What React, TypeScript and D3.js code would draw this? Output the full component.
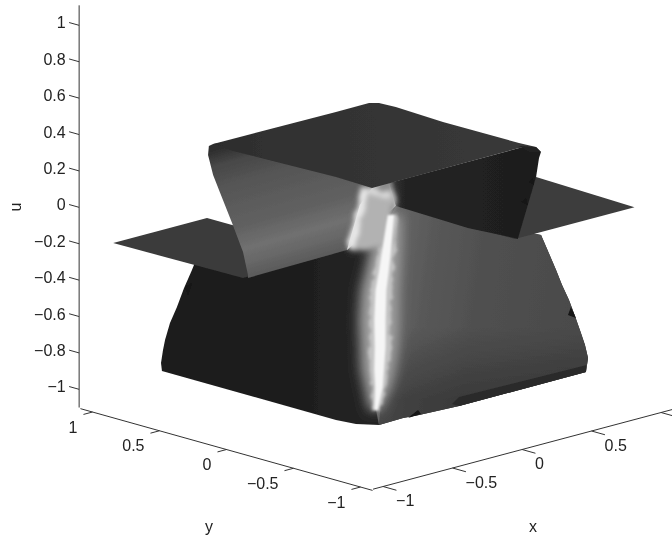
import React from "react";
import * as d3 from "d3";

type P3 = [number, number, number];

// tick values
const xTicks = [-1, -0.5, 0, 0.5, 1];
const xLabels = [-1, -0.5, 0, 0.5];
const yTicks = [-1, -0.5, 0, 0.5, 1];
const uTicks = [-1, -0.8, -0.6, -0.4, -0.2, 0, 0.2, 0.4, 0.6, 0.8, 1];

// sheets of the surface, [x, y, u]
const topPlate: P3[] = [
  [-0.231, 0.991, 0.2], [0.643, 0.981, 0.2], [0.884, 0.984, 0.2], [0.921, 0.948, 0.2],
  [0.93, 0.832, 0.2], [0.907, 0.456, 0.2], [0.91, -0.108, 0.2], [0.92, -0.225, 0.2],
  [0.844, -0.177, 0.2], [-0.201, -0.164, 0.19], [-0.213, 0.093, 0.2], [-0.25, 0.823, 0.2],
];
const plateCorner: P3[] = [[0.87, -0.149, 0.2], [0.92, -0.225, 0.2], [0.945, -0.236, 0.17], [0.831, -0.271, 0.2]];
const leftFlap: P3[] = [[-0.97, 0.97, -0.19], [-0.293, 0.972, -0.19], [-0.293, 0.021, -0.19], [-0.951, 0.021, -0.19]];
const rightFlap: P3[] = [[0.92, -0.96, 0.02], [0.957, -0.187, 0.02], [0.06, -0.19, 0.02], [0.062, -0.957, 0.02]];
const grayWall: P3[] = [
  [-0.273, 0.979, 0.2], [-0.275, 0.983, 0.15], [-0.256, 0.965, 0.04], [-0.287, 0.883, -0.03],
  [-0.483, 0.588, -0.1], [-0.705, 0.276, -0.15], [-0.893, 0.044, -0.19], [-0.932, 0.003, -0.19],
  [-0.198, 0.026, -0.19], [-0.049, 0.085, 0.015], [-0.201, -0.164, 0.19],
  [0.1, -0.1, 0.2], [0.1, 0.9, 0.2], [-0.231, 0.991, 0.2],
];
const darkWall: P3[] = [
  [-0.096, -0.182, 0.2], [0.844, -0.177, 0.2], [0.92, -0.225, 0.2], [0.945, -0.236, 0.17],
  [0.93, -0.237, 0.14], [0.957, -0.187, 0.02], [0.073, -0.968, 0.02], [0.071, -0.941, 0.02],
  [0.034, -0.636, 0.02], [0.058, -0.073, 0.02],
];
const ridgeBase: P3[] = [[-0.201, -0.164, 0.19], [0, -0.1, 0.2], [0.058, -0.073, 0.02], [0.022, -0.074, -0.022], [-0.198, 0.026, -0.19]];
const ridgeCrest: P3[] = [
  [-0.875, -0.893, -0.743], [-0.765, -0.801, -0.658], [-0.691, -0.725, -0.595], [-0.588, -0.626, -0.51],
  [-0.472, -0.504, -0.41], [-0.339, -0.374, -0.299], [-0.241, -0.295, -0.225], [-0.131, -0.203, -0.14],
  [0.022, -0.074, -0.022],
];
const ridgeWidth = [0.006, 0.014, 0.018, 0.02, 0.021, 0.02, 0.018, 0.016, 0.012];
const leftEdge: P3[] = [
  [-0.198, 0.026, -0.19], [-1, 0.291, -0.081], [-1, 0.351, -0.204], [-1, 0.41, -0.315], [-1, 0.463, -0.431],
  [-1, 0.515, -0.529], [-1, 0.552, -0.63], [-1, 0.567, -0.688], [-1, 0.582, -0.763], [-1, 0.575, -0.805],
  [-1, -0.724, -0.807], [-1, -0.873, -0.798], [-0.957, -1, -0.786],
];
const rightEdge: P3[] = [
  [-0.957, -1, -0.786], [-0.784, -1, -0.783], [-0.669, -1, -0.79], [-0.381, -1, -0.799], [0.532, -1, -0.798],
  [0.547, -1, -0.724], [0.525, -1, -0.648], [0.496, -1, -0.576], [0.453, -1, -0.474], [0.41, -1, -0.377],
  [0.36, -1, -0.285], [0.317, -1, -0.193], [0.209, -1, 0.021], [0.058, -0.073, 0.02],
];
const bottomBand: P3[] = [[-0.432, -1, -0.777], [-0.381, -1, -0.749], [0.532, -1, -0.76], [0.532, -1, -0.798], [-0.381, -1, -0.799]];
const notches: P3[][] = [
  [[-0.748, -1, -0.79], [-0.676, -1, -0.761], [-0.655, -1, -0.787]],
  [[0.403, -1, -0.458], [0.424, -1, -0.419], [0.46, -1, -0.486]],
  [[-1, 0.403, -0.308], [-1, 0.351, -0.276], [-1, 0.381, -0.348]],
  [[0.669, -0.426, 0.1], [0.74, -0.389, 0.1], [0.651, -0.489, 0.1]],
  [[0.379, -0.673, 0.1], [0.451, -0.636, 0.1], [0.366, -0.74, 0.1]],
];
const blob: P3[] = [
  [0.04, 0.154, 0.081], [0.073, 0.076, 0.063], [0.134, 0.034, 0.071], [0.088, -0.036, 0.022], [0.048, -0.04, 0.003],
  [-0.104, -0.212, -0.133], [-0.134, -0.192, -0.137], [-0.243, -0.118, -0.151], [-0.279, -0.065, -0.144],
  [-0.187, -0.015, -0.085], [-0.128, 0.032, -0.04], [-0.049, 0.085, 0.015],
];
const streak: P3[] = [[0.031, 0.136, 0.071], [-0.07, 0.062, -0.003], [-0.2, -0.029, -0.096], [-0.267, -0.068, -0.14]];
const blobTop: P3[] = [[0.04, 0.12, 0.07], [0.09, 0.05, 0.06], [0.11, 0.02, 0.045]];

// gradient ramps: [offset, grey level]
const leftFaceRamp = [[0, 26], [0.5, 28], [0.8, 31], [1, 36]];
const rightFaceRamp = [[0, 100], [0.2, 88], [0.45, 80], [1, 74]];
const wallRamp = [[0, 46], [0.12, 72], [0.3, 86], [0.6, 96], [0.78, 112], [0.88, 104], [1, 90]];
const plateRamp = [[0, 44], [0.2, 48], [1, 55]];
const darkRamp = [[0, 50], [0.08, 36], [0.3, 34], [1, 30]];

const px = d3.scaleLinear().domain([-1, 1]).range([-139, 139]);
const py = d3.scaleLinear().domain([-1, 1]).range([134, -134]);
const qx = d3.scaleLinear().domain([-1, 1]).range([37, -37]);
const qy = d3.scaleLinear().domain([-1, 1]).range([37.5, -37.5]);
const qu = d3.scaleLinear().domain([-1, 1]).range([182, -182]);

const project = ([x, y, u]: P3): [number, number] => [378 + px(x) + py(y), 209 + qx(x) + qy(y) + qu(u)];
const closed = d3.line().curve(d3.curveLinearClosed);
const open = d3.line().curve(d3.curveCatmullRom);
const poly = (pts: P3[]) => closed(pts.map(project)) || "";
const seg = (a: P3, b: P3) => {
  const [x1, y1] = project(a);
  const [x2, y2] = project(b);
  return { x1, y1, x2, y2 };
};
const grey = (g: number) => d3.rgb(g, g, g).formatHex();
const fmt = (v: number) => (v < 0 ? "\u2212" + Math.abs(v) : String(v));

// the ridge as a band of varying width round its crest
const ribbon = (k: number, shift = 0) => {
  const right = ridgeCrest.map(([x, y, u], i): P3 => [x + k * ridgeWidth[i] + shift, y - k * ridgeWidth[i] - shift, u]);
  const left = ridgeCrest.map(([x, y, u], i): P3 => [x - k * ridgeWidth[i] + shift, y + k * ridgeWidth[i] - shift, u]);
  return poly([...right, ...left.reverse()]);
};

const Ramp = ({ id, a, b, ramp }: { id: string; a: P3; b: P3; ramp: number[][] }) => (
  <linearGradient id={id} gradientUnits="userSpaceOnUse" {...seg(a, b)}>
    {ramp.map(([o, g]) => (
      <stop key={o} offset={o} stopColor={grey(g)} />
    ))}
  </linearGradient>
);

const Blur = ({ id, s }: { id: string; s: number }) => (
  <filter id={id} filterUnits="userSpaceOnUse" x={0} y={0} width={672} height={540}>
    <feGaussianBlur stdDeviation={s} />
  </filter>
);

const Jag = ({ id, freq, scale, s }: { id: string; freq: number; scale: number; s: number }) => (
  <filter id={id} filterUnits="userSpaceOnUse" x={0} y={0} width={672} height={540}>
    <feTurbulence type="fractalNoise" baseFrequency={freq} numOctaves={2} seed={4} />
    <feDisplacementMap in="SourceGraphic" scale={scale} xChannelSelector="R" yChannelSelector="G" />
    <feGaussianBlur stdDeviation={s} />
  </filter>
);

export default function App() {
  const font = { fontFamily: "Liberation Sans", fontSize: 16, fill: "#222" };
  const axisY = -1.075;
  const axisX = -1.09;
  const zAt: [number, number] = [-1.08, 1.11];
  const faces = [...leftEdge, ...rightEdge];
  return (
    <svg width={672} height={540} style={{ position: "absolute", left: 0, top: 0, background: "#fff" }}>
      <defs>
        <Ramp id="leftFace" a={[-1, 0.575, -0.8]} b={[-0.3, -0.1, -0.809]} ramp={leftFaceRamp} />
        <Ramp id="rightFace" a={[-0.1, -0.2, -0.3]} b={[0.5, -1, -0.4]} ramp={rightFaceRamp} />
        <Ramp id="wall" a={[0.038, 0.913, 0.2]} b={[-0.568, 0.016, -0.19]} ramp={wallRamp} />
        <Ramp id="plate" a={[-0.231, 0.991, 0.2]} b={[0.9, 0.3, 0.2]} ramp={plateRamp} />
        <Ramp id="dark" a={[0.02, -0.1, 0.1]} b={[0.5, -0.6, 0.1]} ramp={darkRamp} />
        <linearGradient id="shade" gradientUnits="userSpaceOnUse" {...seg([-0.3, -0.9, -0.4], [-0.3, -0.9, -0.8])}>
          <stop offset={0} stopColor="#000" stopOpacity={0} />
          <stop offset={1} stopColor="#000" stopOpacity={0.28} />
        </linearGradient>
        <clipPath id="faces">
          <path d={poly(faces)} />
        </clipPath>
        <Blur id="soft" s={0.5} />
        <Blur id="b1" s={1} />
        <Blur id="b2" s={2.2} />
        <Blur id="b4" s={4} />
        <Blur id="b9" s={6} />
        <Jag id="jag" freq={0.14} scale={8} s={1.6} />
        <Jag id="jagBlob" freq={0.09} scale={7} s={2.4} />
      </defs>

      <g filter="url(#soft)">
        <path d={poly(faces)} fill="url(#leftFace)" />
        <path d={poly(rightEdge.concat(ridgeCrest.slice().reverse()))} fill="url(#rightFace)" />
        <path d={poly(rightEdge)} fill="url(#shade)" />
        <path d={poly(bottomBand)} fill="#2a2a2a" />
        <g clipPath="url(#faces)">
          <path d={ribbon(3.5, -0.004)} fill="#a0a0a0" filter="url(#b9)" />
          <path d={ribbon(1.9)} fill="#c4c4c4" filter="url(#jag)" />
        </g>
        <path d={poly(rightFlap)} fill="#3c3c3c" />
        <path d={poly(leftFlap)} fill="#3a3a3a" />
        <path d={poly(grayWall)} fill="url(#wall)" />
        <path d={poly(darkWall)} fill="url(#dark)" />
        <path d={poly(ridgeBase)} fill="#8a8a8a" filter="url(#b2)" />
        <path d={poly(blob)} fill="#a0a0a0" opacity={0.7} filter="url(#b4)" />
        <g filter="url(#jagBlob)">
          <path d={poly(blob)} fill="#b2b2b2" />
          <path d={open(streak.map(project)) || ""} fill="none" stroke="#ececec" strokeWidth={7} />
          <path d={open(blobTop.map(project)) || ""} fill="none" stroke="#dcdcdc" strokeWidth={6} />
        </g>
        <path d={ribbon(1)} fill="#f6f6f6" filter="url(#b1)" />
        <path d={poly(topPlate)} fill="url(#plate)" />
        <path d={poly(plateCorner)} fill="#222" />
        {notches.map((n, i) => (
          <path key={i} d={poly(n)} fill="#141414" />
        ))}
      </g>

      <g filter="url(#soft)">
        <g stroke="#333" strokeWidth={1}>
          <line {...seg([-1.072, axisY, -1.1], [1.2, axisY, -1.1])} />
          <line {...seg([axisX, -1.09, -1.1], [axisX, 1.09, -1.1])} />
          <line {...seg([zAt[0], zAt[1], -1.1], [zAt[0], zAt[1], 1.11])} />
          {xTicks.map((t) => <line key={t} {...seg([t, axisY, -1.1], [t, axisY - 0.1, -1.1])} />)}
          {yTicks.map((t) => <line key={t} {...seg([axisX, t, -1.1], [axisX - 0.065, t, -1.1])} />)}
          {uTicks.map((t) => <line key={t} {...seg([zAt[0], zAt[1], t], [zAt[0], zAt[1] + 0.075, t])} />)}
        </g>
        <g {...font}>
          {xLabels.map((t) => {
            const [a, b] = project([t, axisY, -1.1]);
            return <text key={t} x={a + 13} y={b + 19.5}>{fmt(t)}</text>;
          })}
          {yTicks.map((t) => {
            const [a, b] = project([axisX, t, -1.1]);
            return <text key={t} x={a - 15} y={b + 20.5} textAnchor="end">{fmt(t)}</text>;
          })}
          {uTicks.map((t) => {
            const [a, b] = project([zAt[0], zAt[1], t]);
            return <text key={t} x={a - 13.5} y={b + 3} textAnchor="end">{fmt(t)}</text>;
          })}
          <text x={209} y={532} textAnchor="middle">y</text>
          <text x={533} y={532} textAnchor="middle">x</text>
          <text transform="translate(21,207) rotate(-90)" textAnchor="middle">u</text>
        </g>
      </g>
    </svg>
  );
}
